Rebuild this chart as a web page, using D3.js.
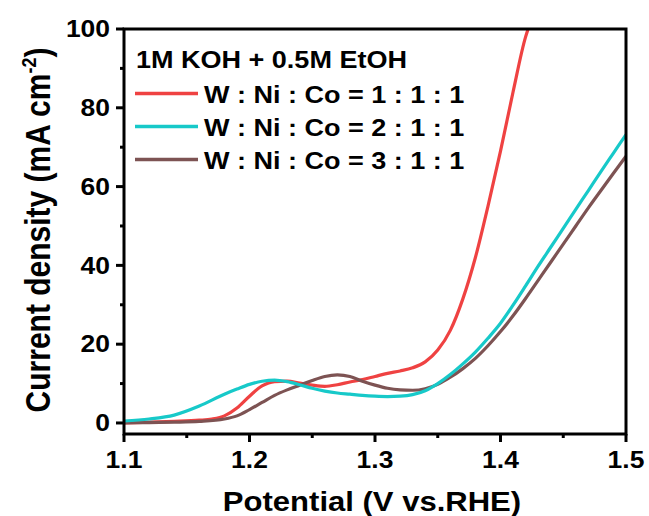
<!DOCTYPE html>
<html>
<head>
<meta charset="utf-8">
<script src="https://cdn.jsdelivr.net/npm/d3@7"></script>
<style>
  html, body { margin: 0; padding: 0; background: #fff; }
  svg { display: block; }
  text { font-family: "Liberation Sans", Arial, sans-serif; font-weight: bold; fill: #000; }
</style>
</head>
<body>
<svg id="chart" width="649" height="516"></svg>
<script>
// potential (V vs. RHE) grid
const potential = [1.10, 1.12, 1.14, 1.16, 1.18, 1.19, 1.20, 1.21, 1.22, 1.23, 1.24, 1.25, 1.26,
  1.27, 1.28, 1.29, 1.30, 1.31, 1.32, 1.33, 1.34, 1.35, 1.36, 1.37, 1.38, 1.39, 1.40, 1.41,
  1.42, 1.43, 1.44, 1.45, 1.46, 1.47, 1.48, 1.49, 1.50];

// W : Ni : Co = 2 : 1 : 1
const ratio211 = [0.5, 1.0, 2.0, 4.3, 7.3, 8.6, 9.8, 10.6, 10.9, 10.5, 9.7, 8.8, 8.1,
  7.6, 7.3, 7.0, 6.8, 6.7, 6.8, 7.2, 8.2, 10.0, 12.3, 15.0, 18.0, 21.5, 25.3, 29.9,
  34.8, 39.8, 44.6, 49.4, 54.2, 59.0, 63.8, 68.5, 73.2];

// W : Ni : Co = 3 : 1 : 1
const ratio311 = [0, 0.1, 0.2, 0.4, 1.0, 1.8, 3.4, 5.2, 7.0, 8.4, 9.6, 10.8, 11.8,
  12.2, 11.8, 10.6, 9.6, 8.8, 8.4, 8.3, 8.7, 9.8, 11.6, 13.8, 16.4, 19.6, 23.2, 27.2,
  31.6, 36.2, 40.8, 45.4, 50.0, 54.6, 59.0, 63.4, 67.7];

// W : Ni : Co = 1 : 1 : 1 (leaves the frame at 100)
const potentialRed = [1.10, 1.12, 1.14, 1.16, 1.17, 1.18, 1.19, 1.20, 1.21, 1.22, 1.23,
  1.24, 1.25, 1.26, 1.27, 1.28, 1.29, 1.30, 1.31, 1.32, 1.33, 1.34, 1.35, 1.36, 1.37,
  1.38, 1.39, 1.40, 1.41, 1.42, 1.422];
const ratio111 = [0, 0.2, 0.4, 0.7, 1.0, 1.8, 3.8, 6.8, 9.4, 10.5, 10.6,
  10.1, 9.6, 9.3, 9.7, 10.4, 11.0, 11.8, 12.6, 13.2, 14.0, 15.5, 18.5, 23.5, 31.5,
  42, 55, 69, 84, 98, 100];

const seriesNames = ['W : Ni : Co = 1 : 1 : 1', 'W : Ni : Co = 2 : 1 : 1', 'W : Ni : Co = 3 : 1 : 1'];
const colors = ['#ef4242', '#17c9c9', '#7d5353'];
const xTicks = [1.1, 1.2, 1.3, 1.4, 1.5];
const xMinor = [1.15, 1.25, 1.35, 1.45];
const yTicks = [0, 20, 40, 60, 80, 100];
const yMinor = [10, 30, 50, 70, 90];

const svg = d3.select('#chart');
const plot = { left: 124, right: 626, top: 29, bottom: 434 };
const stretch = 1.15; // text in the picture is a little wide

const x = d3.scaleLinear().domain([1.1, 1.5]).range([plot.left, plot.right]);
const y = d3.scaleLinear().domain([-2.8, 100]).range([plot.bottom, plot.top]);

const series = [
  { name: seriesNames[0], xs: potentialRed, ys: ratio111, color: colors[0] },
  { name: seriesNames[1], xs: potential, ys: ratio211, color: colors[1] },
  { name: seriesNames[2], xs: potential, ys: ratio311, color: colors[2] }
];

svg.append('clipPath').attr('id', 'plot-clip')
  .append('rect')
  .attr('x', plot.left).attr('y', plot.top)
  .attr('width', plot.right - plot.left).attr('height', plot.bottom - plot.top);

const line = d3.line()
  .x(d => x(d[0]))
  .y(d => y(d[1]))
  .curve(d3.curveMonotoneX);

// draw order: red, brown, cyan on top (as in the picture)
const drawOrder = [series[0], series[2], series[1]];
svg.append('g')
  .attr('clip-path', 'url(#plot-clip)')
  .selectAll('path')
  .data(drawOrder)
  .enter()
  .append('path')
  .attr('fill', 'none')
  .attr('stroke', d => d.color)
  .attr('stroke-width', 3.2)
  .attr('stroke-linejoin', 'round')
  .attr('d', d => line(d.xs.map((v, i) => [v, d.ys[i]])));

// frame
svg.append('rect')
  .attr('x', plot.left).attr('y', plot.top)
  .attr('width', plot.right - plot.left).attr('height', plot.bottom - plot.top)
  .attr('fill', 'none')
  .attr('stroke', '#000')
  .attr('stroke-width', 3);

// ticks (outward)
const tickG = svg.append('g').attr('stroke', '#000').attr('stroke-width', 3);
tickG.selectAll('.xt').data(xTicks).enter().append('line')
  .attr('x1', d => x(d)).attr('x2', d => x(d))
  .attr('y1', plot.bottom).attr('y2', plot.bottom + 8);
tickG.selectAll('.xm').data(xMinor).enter().append('line')
  .attr('x1', d => x(d)).attr('x2', d => x(d))
  .attr('y1', plot.bottom).attr('y2', plot.bottom + 4);
tickG.selectAll('.yt').data(yTicks).enter().append('line')
  .attr('y1', d => y(d)).attr('y2', d => y(d))
  .attr('x1', plot.left).attr('x2', plot.left - 8);
tickG.selectAll('.ym').data(yMinor).enter().append('line')
  .attr('y1', d => y(d)).attr('y2', d => y(d))
  .attr('x1', plot.left).attr('x2', plot.left - 4);

// tick labels
svg.append('g').selectAll('text')
  .data(xTicks)
  .enter()
  .append('text')
  .attr('text-anchor', 'middle')
  .attr('font-size', 23)
  .attr('transform', d => `translate(${x(d)},468) scale(${stretch},1)`)
  .text(d => d3.format('.1f')(d));

svg.append('g').selectAll('text')
  .data(yTicks)
  .enter()
  .append('text')
  .attr('text-anchor', 'end')
  .attr('font-size', 23)
  .attr('transform', d => `translate(110,${y(d) + 8.3}) scale(${stretch},1)`)
  .text(d => d);

// axis titles
svg.append('text')
  .attr('text-anchor', 'middle')
  .attr('font-size', 27)
  .attr('transform', `translate(372,511) scale(${stretch},1)`)
  .text('Potential (V vs.RHE)');

const yTitle = svg.append('text')
  .attr('text-anchor', 'middle')
  .attr('font-size', 30)
  .attr('transform', `translate(50,230) scale(${stretch},1) rotate(-90)`);
yTitle.append('tspan').text('Current density (mA cm');
yTitle.append('tspan').attr('font-size', 18).attr('dy', -12).text('-2');
yTitle.append('tspan').attr('dy', 12).text(')');

// legend
svg.append('text')
  .attr('font-size', 23.5)
  .attr('transform', `translate(136,68) scale(${stretch},1)`)
  .text('1M KOH + 0.5M EtOH');

const legend = svg.append('g').selectAll('g')
  .data(series)
  .enter()
  .append('g')
  .attr('transform', (d, i) => `translate(0,${93.5 + i * 33})`);

legend.append('line')
  .attr('x1', 135).attr('x2', 198)
  .attr('y1', 0).attr('y2', 0)
  .attr('stroke', d => d.color)
  .attr('stroke-width', 3.5);

legend.append('text')
  .attr('font-size', 23.5)
  .attr('transform', `translate(204,9) scale(${stretch},1)`)
  .text(d => d.name);
</script>
</body>
</html>
